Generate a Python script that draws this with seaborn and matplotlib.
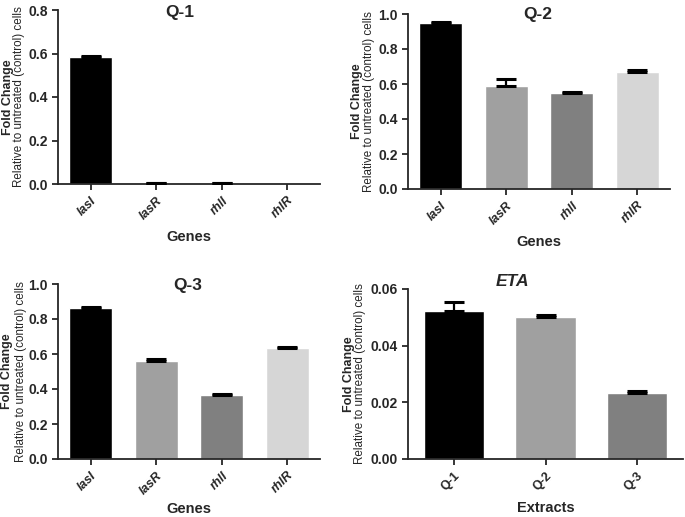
import matplotlib
matplotlib.use("Agg")
import matplotlib.pyplot as plt
import seaborn as sns
import pandas as pd
import numpy as np
from matplotlib.ticker import FormatStrFormatter

sns.set_style("ticks")
plt.rcParams['font.family'] = ['Liberation Sans', 'DejaVu Sans']

genes = ["lasI", "lasR", "rhlI", "rhlR"]
extracts = ["Q-1", "Q-2", "Q-3"]

q1_vals = [0.582, 0.003, 0.004, 0.000]
q1_err = [0.008, 0.001, 0.001, 0.000]
q2_vals = [0.947, 0.589, 0.547, 0.670]
q2_err = [0.007, 0.041, 0.009, 0.010]
q3_vals = [0.861, 0.559, 0.366, 0.632]
q3_err = [0.007, 0.010, 0.005, 0.009]
eta_vals = [0.0522, 0.0502, 0.0233]
eta_err = [0.0033, 0.0006, 0.0006]

gene_colors = ["#000000", "#a0a0a0", "#808080", "#d6d6d6"]
eta_colors = ["#000000", "#a0a0a0", "#808080"]

W, H = 685, 517
fig = plt.figure(figsize=(W / 100, H / 100), dpi=100)

def ax_at(l, r, t, b):
    return fig.add_axes([l / W, 1 - b / H, (r - l) / W, (b - t) / H])

panels = [
    dict(box=(58, 320, 10, 184), cats=genes, vals=q1_vals, err=q1_err, colors=gene_colors,
         ylim=(0, 0.8), ticks=[0, 0.2, 0.4, 0.6, 0.8], fmt="%.1f", title="Q-1", tpos=(0.466, 0.983),
         titalic=False, xlabel="Genes", italic_ticks=True, yl=(-38.5, -50), lp=6),
    dict(box=(408, 670, 14, 189), cats=genes, vals=q2_vals, err=q2_err, colors=gene_colors,
         ylim=(0, 1.0), ticks=[0, 0.2, 0.4, 0.6, 0.8, 1.0], fmt="%.1f", title="Q-2", tpos=(0.496, 1.0),
         titalic=False, xlabel="Genes", italic_ticks=True, yl=(-39, -51), lp=6),
    dict(box=(58, 320, 284, 459), cats=genes, vals=q3_vals, err=q3_err, colors=gene_colors,
         ylim=(0, 1.0), ticks=[0, 0.2, 0.4, 0.6, 0.8, 1.0], fmt="%.1f", title="Q-3", tpos=(0.496, 0.994),
         titalic=False, xlabel="Genes", italic_ticks=True, yl=(-37, -51), lp=4),
    dict(box=(408, 683, 289, 459), cats=extracts, vals=eta_vals, err=eta_err, colors=eta_colors,
         ylim=(0, 0.06), ticks=[0, 0.02, 0.04, 0.06], fmt="%.2f", title="ETA", tpos=(0.38, 1.047),
         titalic=True, xlabel="Extracts", italic_ticks=False, yl=(-48, -59), lp=6),
]

for p in panels:
    ax = ax_at(*p["box"])
    df = pd.DataFrame({"cat": p["cats"], "val": p["vals"]})
    sns.barplot(data=df, x="cat", y="val", hue="cat", palette=p["colors"], legend=False,
                width=0.66, edgecolor="white", linewidth=1.0, ax=ax, errorbar=None)
    xs = np.arange(len(p["cats"]))
    errs = np.array(p["err"])
    mask = errs > 0
    ax.errorbar(xs[mask], np.array(p["vals"])[mask], yerr=[np.zeros(mask.sum()), errs[mask]],
                fmt="none", ecolor="black", elinewidth=1.6, capsize=7, capthick=2.2, zorder=5)
    ax.set_xlim(-0.5, len(p["cats"]) - 0.5)
    ax.set_ylim(*p["ylim"])
    ax.set_yticks(p["ticks"])
    ax.yaxis.set_major_formatter(FormatStrFormatter(p["fmt"]))
    sns.despine(ax=ax)
    for s in ["left", "bottom"]:
        ax.spines[s].set_linewidth(1.3)
    ax.tick_params(axis="both", width=1.3, length=4, direction="out")
    for lab in ax.get_yticklabels():
        lab.set_fontweight("bold")
        lab.set_fontsize(10)
    ax.set_xticks(xs)
    ax.set_xticklabels(p["cats"], rotation=45, ha="right", rotation_mode="anchor",
                       fontsize=9, fontweight="bold",
                       fontstyle="italic" if p["italic_ticks"] else "normal")
    ax.set_xlabel(p["xlabel"], fontsize=10.5, fontweight="bold", labelpad=p["lp"])
    ax.set_ylabel("")
    ax.annotate("Relative to untreated (control) cells", xy=(0, 0.5), xycoords="axes fraction",
                xytext=(p["yl"][0] * 0.72, 0), textcoords="offset points", rotation=90,
                ha="center", va="center", fontsize=8.4)
    ax.annotate("Fold Change", xy=(0, 0.5), xycoords="axes fraction",
                xytext=(p["yl"][1] * 0.72, 0), textcoords="offset points", rotation=90,
                ha="center", va="center", fontsize=9, fontweight="bold")
    ax.text(p["tpos"][0], p["tpos"][1], p["title"], transform=ax.transAxes, ha="center",
            va="center", fontsize=12.5, fontweight="bold",
            fontstyle="italic" if p["titalic"] else "normal")

fig.savefig("out.png", dpi=100)
